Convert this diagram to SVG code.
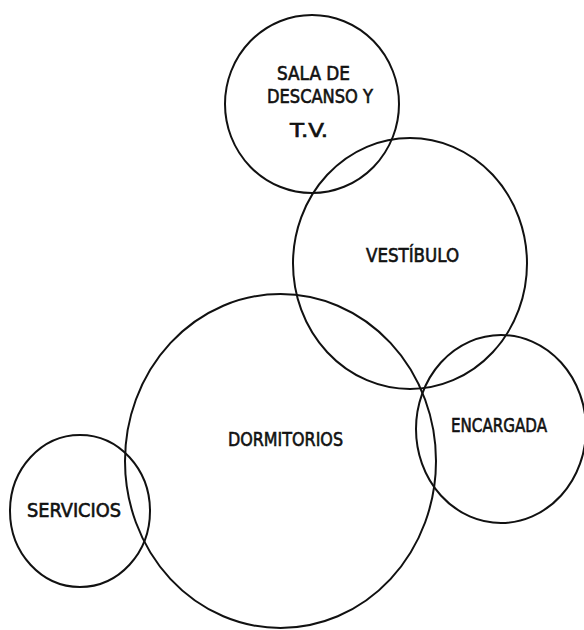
<svg xmlns="http://www.w3.org/2000/svg" width="584" height="630" viewBox="0 0 584 630">
<style>
.b{fill:none;stroke:#111;stroke-width:2}
.t{font-family:"Liberation Sans Narrow","DejaVu Sans Condensed","Liberation Sans",sans-serif;font-size:20px;fill:#111;stroke:#111;stroke-width:0.6}
</style>
<rect width="584" height="630" fill="#fff"/>
<g id="connectors"/>
<g id="sala">
<ellipse class="b" cx="312" cy="104" rx="87" ry="89"/>
<text class="t" x="277" y="80" textLength="73" lengthAdjust="spacingAndGlyphs">SALA DE</text>
<text class="t" x="267" y="103" textLength="106" lengthAdjust="spacingAndGlyphs">DESCANSO Y</text>
<text class="t" x="290" y="137" textLength="38" lengthAdjust="spacingAndGlyphs">T.V.</text>
</g>
<g id="vestibulo">
<ellipse class="b" cx="410" cy="263.5" rx="117" ry="125.5"/>
<text class="t" x="366" y="262" textLength="93" lengthAdjust="spacingAndGlyphs">VESTÍBULO</text>
</g>
<g id="dormitorios">
<ellipse class="b" cx="280.5" cy="461" rx="155.5" ry="167"/>
<text class="t" x="228" y="446" textLength="115" lengthAdjust="spacingAndGlyphs">DORMITORIOS</text>
</g>
<g id="encargada">
<ellipse class="b" cx="501" cy="429" rx="85" ry="94"/>
<text class="t" x="451" y="432" textLength="96" lengthAdjust="spacingAndGlyphs">ENCARGADA</text>
</g>
<g id="servicios">
<ellipse class="b" cx="80" cy="511" rx="70" ry="76"/>
<text class="t" x="27" y="517" textLength="94" lengthAdjust="spacingAndGlyphs">SERVICIOS</text>
</g>
</svg>
